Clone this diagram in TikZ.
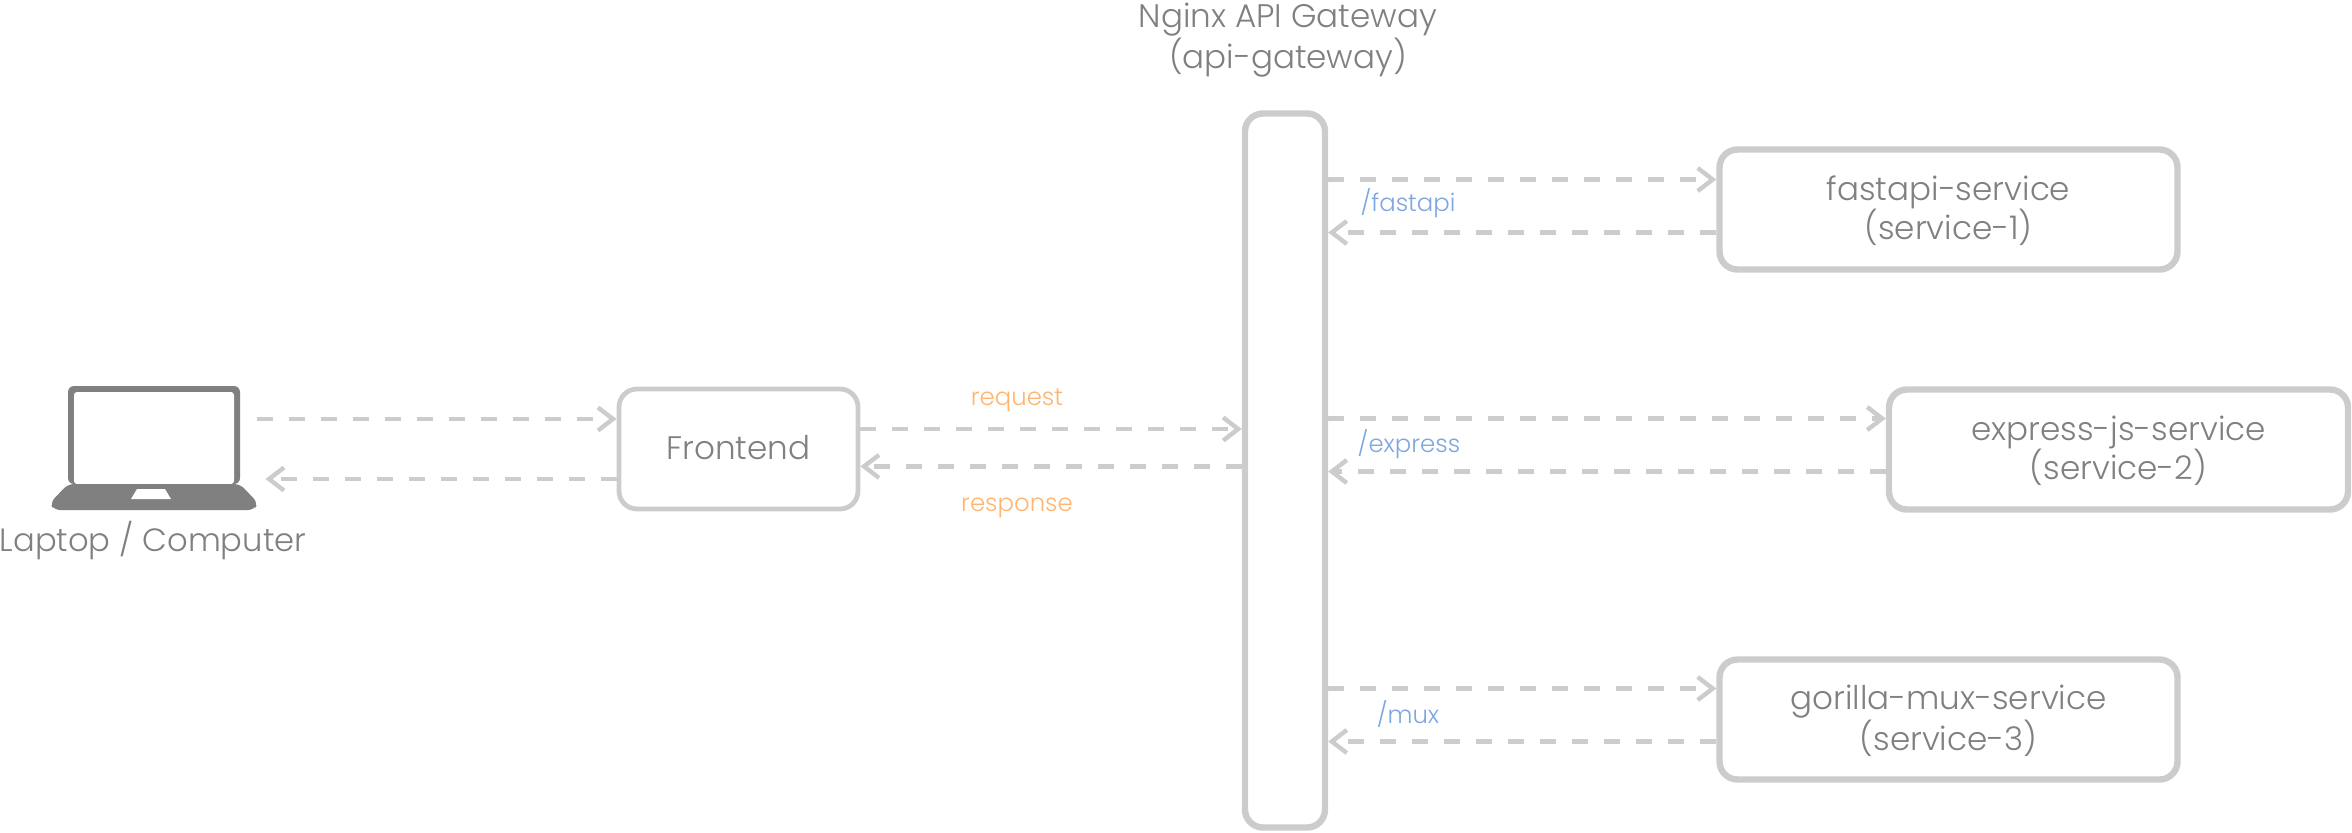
\documentclass[tikz,border=0pt]{standalone}
\usepackage{fontspec}
\setmainfont{Poppins Light}
\usepackage{xcolor}
\usetikzlibrary{arrows.meta,positioning,calc}
\definecolor{gwedge}{RGB}{204,204,204}
\definecolor{gwtext}{RGB}{128,128,128}
\definecolor{gwroute}{RGB}{126,166,224}
\definecolor{gwcall}{RGB}{255,181,112}
\tikzset{
  svc/.style={
    draw=gwedge, line width=3.2pt, rounded corners=9pt, align=center,
    text=gwtext, font=\fontsize{16.3}{19.5}\selectfont, inner sep=0pt,
    text depth=1.5pt
  },
  fe/.style={svc, line width=2.4pt},
  darr/.style={
    draw=gwedge, line width=2.2pt, dash pattern=on 8pt off 8pt,
    -{Straight Barb[length=7.5pt,width=11.5pt,line width=2.2pt]}
  },
  anno/.style={font=\fontsize{16.1}{19.5}\selectfont, text=gwtext, align=center},
  route/.style={font=\fontsize{12.2}{15}\selectfont, text=gwroute},
  call/.style={font=\fontsize{12.2}{15}\selectfont, text=gwcall}
}
\begin{document}
\begin{tikzpicture}[x=0.5pt,y=-0.5pt]
  \useasboundingbox (0,0) rectangle (2352,832);
  % laptop
  \fill[gwtext, rounded corners=3pt] (68,484) -- (68,386) -- (240,386) -- (240,484) -- cycle;
  \fill[white, rounded corners=1.5pt] (74,392) rectangle (234,484);
  \fill[gwtext, rounded corners=3pt] (68,484) -- (240,484) -- (258,503) -- (254,510) -- (54,510) -- (50,503) -- cycle;
  \fill[white] (137,489) -- (165,489) -- (171,499) -- (131,499) -- cycle;
  \node[minimum width=103pt, minimum height=62pt, inner sep=0pt] (lap) at (154,448) {};
  \node[anno] (laplabel) at (153,540.5) {Laptop / Computer};
  % boxes
  \node[fe, minimum width=119.5pt, minimum height=60pt] (front) at (738.5,449) {Frontend};
  \node[svc, minimum width=40pt, minimum height=357pt] (gw) at (1285,470.5) {};
  \node[anno, font=\fontsize{16.3}{19.5}\selectfont, above=12.8pt of gw.north, xshift=1.5pt] (gwlabel) {Nginx API Gateway\\(api-gateway)};
  \node[svc, minimum width=229pt, minimum height=60pt] (s1) at (1948.5,209.5) {fastapi-service\\(service-1)};
  \node[svc, minimum width=229.5pt, minimum height=60pt] (s2) at (2118.5,449.5) {express-js-service\\(service-2)};
  \node[svc, minimum width=229pt, minimum height=60pt] (s3) at (1948.5,719.5) {gorilla-mux-service\\(service-3)};
  % connectors
  \coordinate (fa) at ($(front.west)+(0,15pt)$);
  \coordinate (fb) at ($(front.west)+(0,-15pt)$);
  \draw[darr] (lap.east |- fa) -- (fa);
  \draw[darr] (fb) -- ($(lap.east |- fb)+(8,0)$);
  \coordinate (ga) at ($(front.east)+(0,10pt)$);
  \coordinate (gb) at ($(front.east)+(0,-8.7pt)$);
  \draw[darr] (ga) -- (gw.west |- ga);
  \draw[darr] (gw.west |- gb) -- (gb);
  \foreach \s/\u/\v in {s1/15/-11.5,s2/15.5/-11,s3/15.5/-11} {
    \coordinate (\s a) at ($(\s.west)+(0,\u pt)$);
    \coordinate (\s b) at ($(\s.west)+(0,\v pt)$);
    \draw[darr] (gw.east |- \s a) -- (\s a);
    \draw[darr] (\s b) -- (gw.east |- \s b);
  }
  % labels
  \node[call] (req) at (1017,400) {request};
  \node[call] (resp) at (1017,508) {response};
  \node[route] (r1) at (1408,203) {/fastapi};
  \node[route] (r2) at (1409,444) {/express};
  \node[route] (r3) at (1408,714) {/mux};
\end{tikzpicture}
\end{document}
